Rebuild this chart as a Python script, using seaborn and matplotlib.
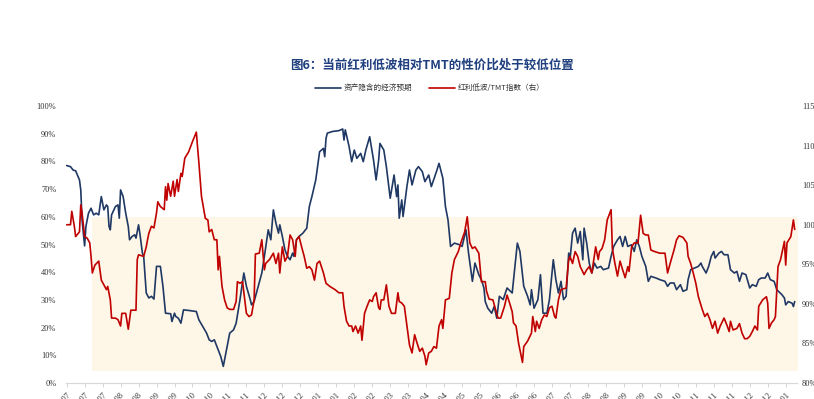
import pandas as pd
import seaborn as sns
import matplotlib.pyplot as plt
from matplotlib.lines import Line2D

# series (days since first tick)
start = pd.Timestamp('2023-07-01')

blue_days = [
    0, 3, 5, 7, 10, 11, 12, 14, 15, 17,
    19, 21, 23, 25, 26, 27, 29, 31, 32, 33,
    34, 35, 38, 40, 41, 42, 44, 46, 48, 49,
    51, 53, 54, 56, 57, 59, 60, 62, 64, 66,
    68, 70, 73, 75, 77, 81, 82, 84, 85, 87,
    89, 91, 95, 101, 103, 106, 109, 111, 113, 115,
    117, 120, 122, 125, 127, 130, 132, 135, 138, 140,
    143, 144, 146, 152, 154, 157, 159, 161, 163, 165,
    166, 168, 170, 172, 174, 176, 177, 179, 181, 184,
    187, 189, 191, 194, 197, 200, 201, 202, 203, 207,
    212, 215, 216, 217, 220, 222, 224, 226, 229, 231,
    233, 236, 239, 241, 243, 244, 247, 249, 252, 255,
    257, 258, 259, 261, 262, 265, 267, 269, 272, 274,
    277, 279, 282, 284, 288, 290, 293, 295, 297, 299,
    302, 306, 308, 311, 313, 316, 318, 321, 323, 325,
    326, 328, 331, 333, 335, 337, 340, 343, 347, 351,
    353, 356, 359, 361, 362, 364, 367, 369, 371, 374,
    376, 379, 381, 383, 385, 387, 389, 391, 392, 394,
    396, 398, 400, 402, 403, 405, 407, 409, 411, 413,
    416, 418, 422, 424, 426, 429, 431, 433, 435, 437,
    440, 442, 444, 446, 448, 451, 453, 455, 459, 462,
    466, 468, 470, 473, 475, 478, 480, 483, 484, 486,
    489, 492, 494, 495, 498, 500, 502, 504, 505, 508,
    510, 512, 515, 517, 520, 522, 524, 526, 529, 532,
    534, 537, 539, 541, 544, 546, 548, 551, 553, 557,
    559, 560, 562, 565, 566, 567,
]
blue_pct = [
    78.5, 78.1, 76.9, 76.6, 73.3, 69.7, 58.9, 49.5, 56.5, 61.3,
    63.1, 60.7, 61.3, 60.7, 63.9, 67.3, 62.5, 64.3, 63.7, 56.5,
    55.3, 60.7, 63.7, 64.3, 59.5, 69.7, 67.3, 61.3, 56.5, 51.7,
    52.9, 53.5, 52.3, 57.1, 54.1, 46.9, 45.7, 32.5, 30.7, 31.3,
    30.3, 42.1, 42.1, 34.9, 25.2, 25.0, 22.2, 25.2, 24.0, 23.4,
    21.6, 26.4, 26.2, 25.8, 22.8, 20.4, 18.0, 15.6, 15.0, 15.6,
    13.2, 9.6, 6.0, 13.2, 18.0, 19.2, 21.6, 30.1, 39.7, 34.9,
    30.1, 28.2, 29.4, 39.7, 45.7, 55.3, 51.7, 62.5, 57.7, 54.1,
    57.1, 52.9, 48.1, 45.7, 44.5, 46.9, 45.7, 51.7, 52.9, 54.1,
    55.9, 63.7, 67.3, 73.3, 83.5, 84.7, 81.7, 88.3, 90.2, 90.8,
    91.1, 91.7, 87.7, 91.4, 85.3, 79.9, 84.1, 81.1, 82.9, 79.9,
    84.1, 88.9, 80.5, 73.3, 80.5, 86.5, 84.1, 78.1, 66.7, 75.1,
    67.3, 71.5, 59.5, 66.1, 60.1, 70.9, 76.9, 71.5, 76.9, 78.1,
    76.3, 72.7, 75.1, 70.9, 76.3, 79.3, 73.9, 63.7, 58.9, 49.3,
    50.5, 49.9, 49.3, 55.3, 46.9, 36.7, 43.3, 39.1, 37.3, 34.3,
    29.4, 27.0, 25.2, 27.6, 23.4, 31.3, 30.1, 34.3, 32.5, 50.5,
    47.5, 34.9, 31.3, 28.2, 33.7, 27.0, 30.1, 39.1, 25.2, 25.2,
    30.1, 44.5, 37.3, 32.5, 36.7, 30.1, 31.3, 46.9, 44.5, 54.1,
    55.9, 50.5, 54.7, 44.5, 55.9, 50.5, 43.3, 39.7, 43.3, 41.5,
    42.1, 40.9, 41.5, 45.7, 49.3, 51.7, 52.9, 49.3, 52.9, 49.3,
    49.9, 47.5, 51.7, 49.3, 45.7, 42.1, 36.7, 38.5, 37.9, 37.3,
    36.7, 34.9, 36.1, 36.1, 33.7, 35.5, 33.1, 33.7, 37.3, 40.9,
    41.5, 42.1, 43.3, 42.1, 39.7, 42.1, 45.7, 47.5, 45.1, 46.9,
    47.5, 46.3, 46.3, 40.9, 39.7, 40.3, 36.7, 39.7, 39.1, 34.3,
    35.5, 34.9, 37.3, 37.9, 37.9, 39.7, 37.3, 36.7, 33.7, 31.9,
    30.7, 28.2, 29.4, 28.8, 27.6, 29.4,
]

red_days = [
    0, 3, 4, 6, 7, 10, 11, 12, 14, 16,
    18, 19, 20, 22, 25, 27, 29, 31, 32, 34,
    35, 38, 40, 42, 43, 46, 48, 50, 54, 55,
    56, 60, 62, 63, 64, 66, 68, 70, 71, 73,
    76, 77, 78, 79, 81, 83, 84, 86, 87, 89,
    90, 92, 95, 98, 101, 103, 105, 108, 110, 111,
    113, 115, 117, 118, 119, 121, 123, 125, 127, 130,
    132, 133, 135, 137, 140, 142, 144, 146, 147, 150,
    152, 154, 155, 158, 161, 163, 165, 166, 168, 170,
    172, 174, 176, 178, 179, 181, 183, 185, 187, 189,
    191, 193, 195, 197, 200, 202, 205, 209, 212, 215,
    216, 218, 220, 222, 223, 225, 227, 229, 230, 232,
    234, 236, 238, 239, 241, 243, 244, 245, 247, 249,
    251, 253, 256, 258, 259, 261, 263, 265, 267, 269,
    271, 273, 275, 277, 279, 280, 282, 284, 286, 288,
    290, 292, 293, 295, 298, 300, 302, 305, 307, 310,
    312, 314, 316, 318, 321, 323, 326, 327, 329, 332,
    334, 336, 338, 341, 343, 345, 347, 348, 350, 352,
    355, 356, 359, 362, 363, 365, 366, 368, 370, 372,
    374, 376, 378, 380, 381, 383, 385, 387, 389, 391,
    392, 394, 396, 398, 400, 403, 405, 407, 409, 412,
    414, 415, 417, 419, 421, 424, 425, 427, 429, 431,
    433, 435, 437, 438, 440, 442, 445, 447, 449, 451,
    453, 455, 458, 462, 466, 468, 470, 473, 475, 477,
    480, 483, 484, 486, 488, 490, 492, 495, 497, 499,
    501, 503, 505, 507, 509, 512, 514, 516, 517, 519,
    522, 524, 526, 528, 530, 532, 534, 536, 538, 539,
    542, 545, 546, 547, 549, 551, 552, 554, 556, 559,
    560, 561, 564, 566, 567,
]
red_idx = [
    100.0, 100.0, 101.7, 99.8, 98.5, 99.1, 102.5, 101.5, 98.5, 98.3,
    97.7, 96.0, 93.9, 94.9, 95.4, 93.0, 92.4, 91.8, 92.2, 90.5,
    88.2, 88.2, 88.0, 87.2, 88.8, 88.8, 86.8, 89.2, 89.2, 95.6,
    96.2, 96.0, 97.2, 98.1, 98.9, 99.8, 99.6, 101.5, 102.9, 102.3,
    101.9, 104.8, 103.1, 105.2, 103.6, 105.5, 103.6, 105.7, 104.2, 106.5,
    106.1, 108.4, 109.2, 110.5, 111.7, 107.8, 103.6, 100.8, 100.6, 99.1,
    99.4, 98.1, 98.1, 94.3, 96.0, 92.2, 90.5, 89.5, 89.3, 89.3,
    90.3, 92.8, 92.6, 92.8, 88.8, 88.4, 88.6, 90.5, 96.3, 96.4,
    98.1, 94.3, 95.1, 95.6, 96.4, 95.1, 96.4, 93.9, 97.2, 95.4,
    96.0, 98.7, 98.1, 96.0, 98.1, 98.5, 97.2, 96.0, 94.5, 94.7,
    94.3, 93.0, 95.1, 95.4, 93.9, 92.6, 92.2, 91.8, 91.4, 91.4,
    89.7, 87.8, 87.2, 87.2, 86.5, 87.2, 86.3, 87.2, 85.4, 88.8,
    89.7, 90.5, 90.3, 90.9, 91.4, 89.5, 89.3, 90.5, 90.5, 92.4,
    89.7, 88.8, 88.8, 91.4, 90.3, 90.1, 89.7, 87.2, 84.8, 83.8,
    86.1, 85.0, 84.0, 84.4, 83.4, 82.3, 83.8, 84.0, 84.6, 84.4,
    87.2, 88.0, 86.9, 90.5, 90.7, 93.9, 95.6, 96.6, 97.7, 99.1,
    101.0, 97.7, 97.0, 97.2, 96.4, 92.8, 92.8, 91.6, 90.6, 90.5,
    89.3, 88.2, 88.2, 89.7, 91.1, 90.1, 89.0, 87.6, 87.2, 85.0,
    82.6, 84.6, 85.3, 86.3, 88.4, 86.5, 87.8, 86.9, 88.0, 88.6,
    88.4, 89.5, 89.7, 88.4, 88.2, 90.5, 91.8, 91.9, 92.0, 95.6,
    96.0, 95.1, 96.6, 96.0, 94.7, 93.7, 94.3, 94.7, 93.9, 97.2,
    95.6, 96.6, 97.0, 98.1, 100.6, 101.9, 97.0, 95.1, 93.5, 95.4,
    94.3, 93.3, 94.7, 94.1, 97.2, 97.7, 97.7, 101.2, 98.9, 98.7,
    98.7, 96.8, 96.6, 96.4, 96.4, 93.9, 95.1, 96.8, 98.1, 98.6,
    98.4, 97.7, 96.0, 95.1, 93.9, 92.6, 90.9, 89.3, 88.4, 88.8,
    88.0, 86.9, 87.8, 86.3, 87.2, 88.2, 87.4, 86.5, 87.8, 86.7,
    86.9, 87.5, 86.3, 85.6, 85.6, 85.9, 86.5, 87.2, 86.7, 89.7,
    90.5, 90.9, 90.1, 86.9, 87.6, 88.0, 88.4, 94.7, 95.6, 97.9,
    94.9, 97.7, 98.5, 100.6, 99.4,
]

title = '图6：当前红利低波相对TMT的性价比处于较低位置'
blue_name = '资产隐含的经济预期'
red_name = '红利低波/TMT指数（右）'
left_ticks = list(range(0, 101, 10))
right_ticks = list(range(80, 116, 5))
n_xticks = 41
tick_step_days = 14

blue_df = pd.DataFrame({'date': start + pd.to_timedelta(blue_days, unit='D'), 'value': blue_pct})
red_df = pd.DataFrame({'date': start + pd.to_timedelta(red_days, unit='D'), 'value': red_idx})

sns.set_theme(style='white')
plt.rcParams['font.family'] = ['Noto Sans CJK SC', 'DejaVu Sans']

BLUE = '#1F3864'
RED = '#C00000'
serif = 'Liberation Serif'

fig = plt.figure(figsize=(8.14, 3.99), dpi=100)
ax = fig.add_axes([66 / 814, 16 / 399, 731 / 814, 277 / 399])
ax2 = ax.twinx()

# shaded band
band_x = [start + pd.Timedelta(days=20), start + pd.Timedelta(days=570)]
ax.fill_between(band_x, 4.3, 60, color='#FEF6E6', lw=0, zorder=0)

sns.lineplot(data=blue_df, x='date', y='value', ax=ax, color=BLUE, lw=1.2,
             estimator=None, sort=False, zorder=3)
sns.lineplot(data=red_df, x='date', y='value', ax=ax2, color=RED, lw=1.2,
             estimator=None, sort=False, zorder=3)

ax.set_xlim(start - pd.Timedelta(days=0.5), start + pd.Timedelta(days=568.8))
ax.set_ylim(0, 100)
ax2.set_ylim(80, 115)

ax.set_yticks(left_ticks)
ax.set_yticklabels([f'{t}%' for t in left_ticks], fontfamily=serif, fontsize=6, color='#333333')
ax2.set_yticks(right_ticks)
ax2.set_yticklabels([f'{t}%' for t in right_ticks], fontfamily=serif, fontsize=6, color='#333333')

xt = pd.date_range(start, periods=n_xticks, freq=f'{tick_step_days}D')
ax.set_xticks(xt)
ax.set_xticklabels(xt.strftime('%Y-%m'), rotation=45, ha='right', rotation_mode='anchor',
                   fontfamily=serif, fontsize=6, color='#333333')

ax.tick_params(axis='y', length=0, pad=7)
ax2.tick_params(axis='y', length=0, pad=3.5)
ax.tick_params(axis='x', length=3, width=0.6, color='#D0D0D0', pad=3, bottom=True)

for a in (ax, ax2):
    a.set_xlabel('')
    a.set_ylabel('')
    for s in ('left', 'right', 'top'):
        a.spines[s].set_visible(False)
    a.spines['bottom'].set_color('#D9D9D9')
    a.spines['bottom'].set_linewidth(0.8)
    if a.get_legend():
        a.get_legend().remove()

fig.text(0.531, 0.837, title, ha='center', va='center', fontsize=9,
         fontweight='bold', color='#1F3F7F')

handles = [Line2D([], [], color=BLUE, lw=1.2), Line2D([], [], color=RED, lw=1.2)]
fig.legend(handles, [blue_name, red_name], loc='center', bbox_to_anchor=(0.528, 0.779),
           ncol=2, frameon=False, fontsize=5.5, handlelength=3.4, columnspacing=2.2,
           handletextpad=0.4, labelcolor='#333333')

fig.savefig('out.png', dpi=100)
